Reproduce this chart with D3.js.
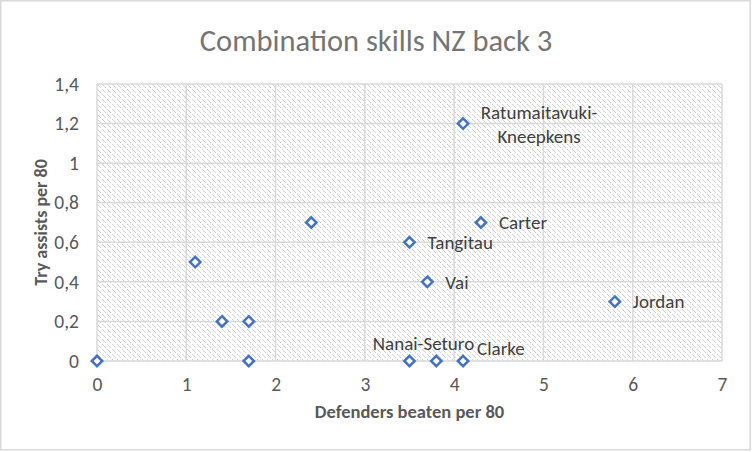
<!DOCTYPE html>
<html>
<head>
<meta charset="utf-8">
<script src="https://cdn.jsdelivr.net/npm/d3@7"></script>
<style>
  body { margin: 0; background: #fff; }
  svg { display: block; font-family: Carlito, Calibri, Lato, sans-serif; }
  .tick text { fill: #595959; font-size: 19.5px; }
  .label { fill: #404040; font-size: 19px; }
</style>
</head>
<body>
<div id="chart"></div>
<script>
// data
const defendersBeaten = [0, 1.1, 1.4, 1.7, 1.7, 2.4, 3.5, 3.7, 4.1, 4.3, 5.8, 3.5, 3.8, 4.1];
const tryAssists = [0, 0.5, 0.2, 0.2, 0, 0.7, 0.6, 0.4, 1.2, 0.7, 0.3, 0, 0, 0];
const playerNames = ["", "", "", "", "", "", "Tangitau", "Vai", "Ratumaitavuki-|Kneepkens", "Carter", "Jordan", "Nanai-Seturo", "", "Clarke"];
const xTicks = [0, 1, 2, 3, 4, 5, 6, 7];
const yTicks = [0, 0.2, 0.4, 0.6, 0.8, 1, 1.2, 1.4];
const yTickLabels = ["0", "0,2", "0,4", "0,6", "0,8", "1", "1,2", "1,4"];

// label placement (layout only)
const labelPlace = {
    "Ratumaitavuki-|Kneepkens": { dx: 76, dy: -11, anchor: "middle" },
    "Nanai-Seturo": { dx: 14, dy: -18, anchor: "middle" },
    "Clarke": { dx: 14, dy: -13, anchor: "start" }
};

const svgWidth = 752,
    svgHeight = 452,
    margin = { top: 84, right: 30, bottom: 91, left: 97 },
    width = 625,
    height = 277;

const svg = d3.select("#chart").append("svg")
    .attr("width", svgWidth)
    .attr("height", svgHeight);

// outer chart border
svg.append("rect")
    .attr("x", 0.75).attr("y", 0.75)
    .attr("width", 749.5).attr("height", 449)
    .attr("fill", "#fff")
    .attr("stroke", "#d9d9d9")
    .attr("stroke-width", 1.5);

// hatch pattern for plot area (dashed downward diagonal)
const pat = svg.append("defs").append("pattern")
    .attr("id", "hatch")
    .attr("patternUnits", "userSpaceOnUse")
    .attr("width", 5).attr("height", 5);
pat.append("rect").attr("width", 5).attr("height", 5).attr("fill", "#fff");
[0, 1, 2, 3].forEach((i) => {
    pat.append("rect")
        .attr("x", i).attr("y", i)
        .attr("width", 1).attr("height", 1)
        .attr("fill", "#d2d2d2");
});

const g = svg.append("g")
    .attr("transform", `translate(${margin.left},${margin.top})`);

const xScale = d3.scaleLinear().domain([0, 7]).range([0, width]);
const yScale = d3.scaleLinear().domain([0, 1.4]).range([height, 0]);

g.append("rect")
    .attr("width", width)
    .attr("height", height)
    .attr("fill", "url(#hatch)")
    .attr("shape-rendering", "crispEdges");

// gridlines
g.selectAll(".vgrid")
    .data(xTicks)
    .join("line")
    .attr("x1", (d) => xScale(d)).attr("x2", (d) => xScale(d))
    .attr("y1", 0).attr("y2", height)
    .attr("stroke", "#d9d9d9")
    .attr("stroke-width", 1.5);
g.selectAll(".hgrid")
    .data(yTicks)
    .join("line")
    .attr("x1", 0).attr("x2", width)
    .attr("y1", (d) => yScale(d)).attr("y2", (d) => yScale(d))
    .attr("stroke", "#d9d9d9")
    .attr("stroke-width", 1.5);

// axes
const xAxis = g.append("g")
    .attr("transform", `translate(0,${height})`)
    .call(d3.axisBottom(xScale).tickValues(xTicks).tickSize(0).tickPadding(16).tickFormat(d3.format("d")));
xAxis.select(".domain").remove();

const yAxis = g.append("g")
    .call(d3.axisLeft(yScale).tickValues(yTicks).tickSize(0).tickPadding(18)
        .tickFormat((d, i) => yTickLabels[i]));
yAxis.select(".domain").remove();
xAxis.attr("font-family", null).attr("font-size", null);
yAxis.attr("font-family", null).attr("font-size", null);

// axis titles
svg.append("text")
    .attr("x", margin.left + width / 2)
    .attr("y", 418)
    .attr("text-anchor", "middle")
    .attr("font-weight", "bold")
    .attr("font-size", "18.5px")
    .attr("fill", "#595959")
    .text("Defenders beaten per 80");
svg.append("text")
    .attr("transform", `translate(47, ${margin.top + height / 2}) rotate(-90)`)
    .attr("text-anchor", "middle")
    .attr("font-weight", "bold")
    .attr("font-size", "18px")
    .attr("fill", "#595959")
    .text("Try assists per 80");

// title
svg.append("text")
    .attr("x", svgWidth / 2)
    .attr("y", 51)
    .attr("text-anchor", "middle")
    .attr("font-size", "30.5px")
    .attr("fill", "#757575")
    .text("Combination skills NZ back 3");

// points
const points = defendersBeaten.map((x, i) => ({ x: x, y: tryAssists[i], name: playerNames[i] }));

g.selectAll(".pt")
    .data(points)
    .join("path")
    .attr("class", "pt")
    .attr("d", "M0,-5.2L5.2,0L0,5.2L-5.2,0Z")
    .attr("transform", (d) => `translate(${xScale(d.x)},${yScale(d.y)})`)
    .attr("fill", "#fff")
    .attr("stroke", "#4472c4")
    .attr("stroke-width", 2.5);

// data labels
const labelled = points.filter((d) => d.name !== "");
const labels = g.selectAll(".label")
    .data(labelled)
    .join("text")
    .attr("class", "label")
    .attr("text-anchor", (d) => (labelPlace[d.name] || {}).anchor || "start")
    .attr("transform", (d) => {
        const p = labelPlace[d.name] || { dx: 18, dy: 0 };
        return `translate(${xScale(d.x) + p.dx},${yScale(d.y) + p.dy})`;
    });
labels.each(function (d) {
    const lines = d.name.split("|");
    lines.forEach((line, i) => {
        d3.select(this).append("tspan")
            .attr("x", 0)
            .attr("y", i * 24)
            .attr("dy", "0.35em")
            .text(line);
    });
});
</script>
</body>
</html>
